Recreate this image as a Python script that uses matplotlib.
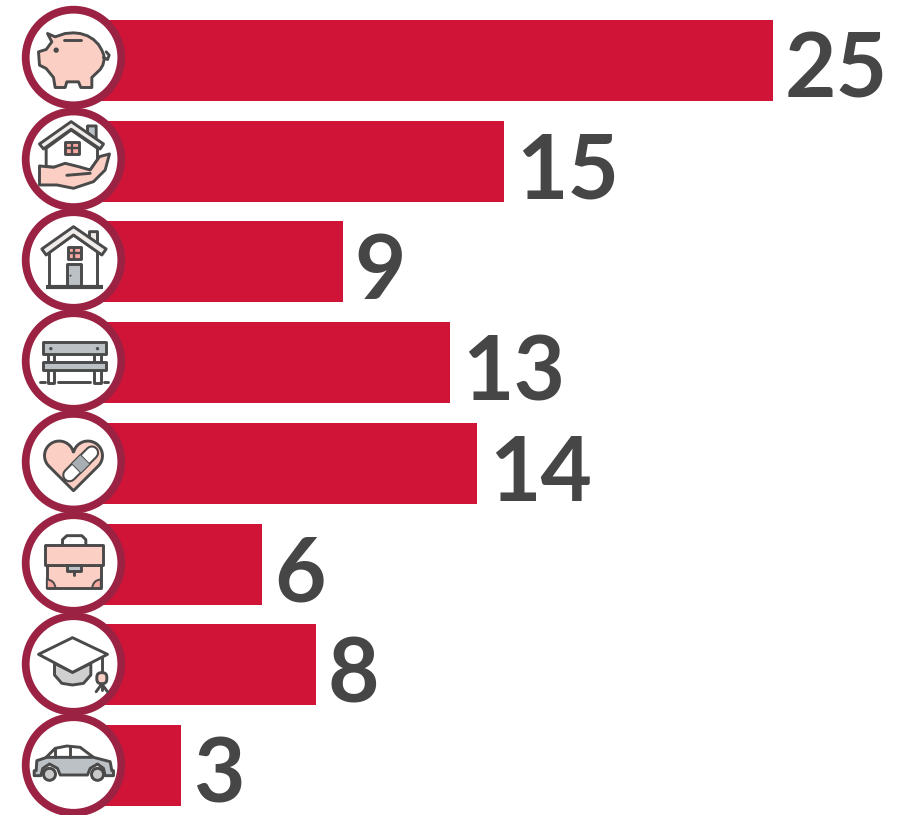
import numpy as np
import matplotlib
matplotlib.use("Agg")
import matplotlib.pyplot as plt
from matplotlib.patches import Circle, Polygon, Wedge, FancyBboxPatch

categories = ["Savings", "Home care", "Housing", "Public space", "Health", "Work", "Education", "Car"]
values = [25, 15, 9, 13, 14, 6, 8, 3]

BAR = "#d01438"
RING = "#9c2244"
TXT = "#464646"
LINE = "#4a4a4a"
PINK = "#fbcfc4"
GREY = "#bcc1c6"
LIGHT = "#efecea"
SALMON = "#f7a8a0"

W, H = 902, 815
fig = plt.figure(figsize=(W / 100, H / 100), dpi=100, facecolor="white")

# Main bar axes: value 0 at px 100.5, 26.9 px per unit; first bar centre px 60.5, pitch 100.71
PX_X, PX_Y = 26.9, 100.71
ax = fig.add_axes([0, 0, 1, 1])
ax.set_xlim(-100.5 / PX_X, (W - 100.5) / PX_X)
ax.set_ylim((H - 60.5) / PX_Y, -60.5 / PX_Y)
ax.axis("off")
ypos = np.arange(len(values))
ax.barh(ypos, values, height=81 / PX_Y, color=BAR, linewidth=0)
for y, v in zip(ypos, values):
    ax.text(v + 12 / PX_X, y + 37.5 / PX_Y, str(v), family="Lato", fontweight="bold",
            fontsize=64, color=TXT, ha="left", va="baseline")

# Icon overlay in pixel coordinates
ov = fig.add_axes([0, 0, 1, 1])
ov.set_xlim(0, W)
ov.set_ylim(H, 0)
ov.axis("off")
ov.patch.set_alpha(0)

CX = 73.5
CYS = [57.5, 159.3, 260, 361, 461.7, 563, 664, 765]
ZC = [(190, 172), (190, 478), (190, 165), (190, 470), (190, 155), (190, 460), (190, 162), (190, 465)]
LW = 2.1


class Icon:
    def __init__(self, i):
        self.cy = CYS[i]
        self.zc = ZC[i]

    def t(self, pts):
        p = np.array(pts, float)
        return np.column_stack([CX + (p[:, 0] - self.zc[0]) / 3, self.cy + (p[:, 1] - self.zc[1]) / 3])

    def poly(self, pts, fc="none", lw=LW, z=5):
        ov.add_patch(Polygon(self.t(pts), closed=True, fc=fc, ec=LINE, lw=lw, joinstyle="round", zorder=z))

    def line(self, pts, lw=LW, z=6, color=LINE, cap="round"):
        q = self.t(pts)
        ov.plot(q[:, 0], q[:, 1], color=color, lw=lw, solid_capstyle=cap, solid_joinstyle="round", zorder=z)

    def rect(self, x0, y0, x1, y1, fc="none", lw=LW, z=5):
        self.poly([(x0, y0), (x1, y0), (x1, y1), (x0, y1)], fc=fc, lw=lw, z=z)

    def dot(self, x, y, r, fc=LINE, z=6):
        q = self.t([(x, y)])[0]
        ov.add_patch(Circle(q, r / 3, fc=fc, ec="none", zorder=z))

    def circ(self, x, y, r, fc, z=6):
        q = self.t([(x, y)])[0]
        ov.add_patch(Circle(q, r / 3, fc=fc, ec=LINE, lw=LW, zorder=z))

    def window(self, x0, y0, x1, y1):
        self.rect(x0, y0, x1, y1, fc=SALMON)
        xm, ym = (x0 + x1) / 2, (y0 + y1) / 2
        self.line([(xm, y0), (xm, y1)], lw=1.7, cap="butt")
        self.line([(x0, ym), (x1, ym)], lw=1.7, cap="butt")


for i, cy in enumerate(CYS):
    ov.add_patch(Circle((CX, cy), 47.8, fc="white", ec=RING, lw=5.6, zorder=2 + i * 0.01))

# Piggy bank
a = Icon(0)
a.poly([(112, 100), (135, 110), (165, 100), (190, 98), (210, 100), (232, 107), (250, 118), (265, 133),
        (275, 150), (281, 165), (282, 178), (278, 195), (270, 208), (245, 232), (245, 262), (212, 262),
        (205, 245), (170, 245), (165, 262), (135, 262), (130, 232), (108, 205), (88, 195), (85, 155),
        (108, 148), (125, 125)], fc=PINK)
a.line([(280, 172), (292, 178), (297, 165), (288, 155)])
a.line([(162, 120), (212, 120)])
a.dot(138, 150, 8)

# House in hand
a = Icon(1)
a.poly([(232, 378), (258, 378), (258, 418), (232, 398)], fc=GREY)
a.poly([(108, 445), (183, 390), (262, 445), (262, 480), (240, 510), (108, 500)], fc="white", z=4)
a.poly([(88, 432), (183, 365), (280, 432), (270, 447), (183, 388), (100, 447)], fc=LIGHT)
a.window(165, 425, 205, 462)
a.poly([(88, 498), (130, 502), (165, 490), (205, 500), (240, 510), (268, 470), (298, 462), (285, 510),
        (250, 545), (190, 565), (140, 555), (88, 555)], fc=PINK, z=6)
a.line([(170, 526), (240, 520)], z=7)

# House
a = Icon(2)
a.poly([(238, 80), (262, 80), (262, 118), (238, 98)], fc=LIGHT)
a.poly([(118, 140), (190, 90), (262, 140), (262, 245), (118, 245)], fc="white", z=4)
a.poly([(95, 132), (190, 65), (288, 132), (275, 150), (190, 90), (108, 150)], fc=LIGHT)
a.window(172, 125, 212, 162)
a.rect(170, 178, 213, 245, fc=GREY)
a.dot(181, 212, 3)
a.line([(108, 246), (277, 246)], lw=3, cap="butt")

# Bench
a = Icon(3)
a.rect(112, 450, 132, 473, fc="white")
a.rect(250, 450, 272, 473, fc="white")
a.rect(112, 497, 132, 535, fc="white")
a.rect(250, 497, 272, 535, fc="white")
a.rect(98, 413, 287, 450, fc=GREY)
a.rect(98, 473, 287, 497, fc=GREY)
a.dot(122, 433, 5)
a.dot(262, 433, 5)
for seg in [[(90, 533), (103, 533)], [(142, 533), (240, 533)], [(281, 533), (293, 533)]]:
    a.line(seg)

# Heart with plaster
a = Icon(4)
left_arc = np.radians(np.linspace(-15, -225, 24))
right_arc = np.radians(np.linspace(45, -165, 24))
heart = np.vstack([
    np.column_stack([147 + 44 * np.cos(left_arc), 137 + 44 * np.sin(left_arc)]),
    [(190, 242)],
    np.column_stack([233 + 44 * np.cos(right_arc), 137 + 44 * np.sin(right_arc)]),
])
a.poly(heart, fc=PINK)
q = a.t([(178, 195), (245, 128)])
ov.plot(q[:, 0], q[:, 1], color=LINE, lw=10.5, solid_capstyle="round", zorder=6)
ov.plot(q[:, 0], q[:, 1], color="white", lw=7.5, solid_capstyle="round", zorder=7)
m = a.t([(197, 176), (226, 147)])
ov.plot(m[:, 0], m[:, 1], color=LINE, lw=10.5, solid_capstyle="butt", zorder=8)
m2 = a.t([(199, 174), (224, 149)])
ov.plot(m2[:, 0], m2[:, 1], color="#a9aeb3", lw=9, solid_capstyle="butt", zorder=9)

# Briefcase
a = Icon(5)
a.line([(157, 407), (157, 390), (170, 378), (215, 378), (227, 390), (227, 407)])
a.rect(110, 465, 272, 535, fc=PINK)
for cx_, t1, t2 in [(110, -90, 0), (272, 180, 270)]:
    c = a.t([(cx_, 535)])[0]
    ov.add_patch(Wedge(c, 8.5, t1, t2, fc=SALMON, ec=LINE, lw=1.4, zorder=6))
a.rect(103, 407, 278, 465, fc=PINK, z=6)
a.poly([(170, 465), (170, 485), (212, 485), (212, 465)], fc=GREY, z=7)
a.line([(190, 485), (190, 497)], z=7)

# Graduation cap
a = Icon(6)
a.poly([(133, 160), (133, 195), (155, 220), (187, 225), (220, 220), (242, 195), (242, 160), (187, 187)],
       fc="#cfcfcf", z=4)
a.poly([(85, 133), (187, 83), (292, 133), (187, 187)], fc="white")
a.line([(275, 142), (275, 186)])
a.line([(275, 222), (258, 245)])
a.line([(275, 222), (292, 245)])
a.line([(275, 222), (275, 240)])
ov.add_patch(FancyBboxPatch(a.t([(260, 188)])[0], 10, 11, boxstyle="round,pad=0,rounding_size=4.5",
                            fc=PINK, ec=LINE, lw=LW, zorder=7))

# Car
a = Icon(7)
a.poly([(105, 445), (135, 415), (170, 408), (210, 412), (250, 442)], fc="white", z=4)
a.poly([(78, 482), (80, 452), (110, 442), (250, 442), (300, 455), (305, 482), (310, 482), (310, 497),
        (285, 497), (280, 475), (262, 462), (240, 475), (232, 495), (150, 495), (142, 475), (118, 462),
        (98, 475), (92, 497), (72, 497), (72, 482)], fc=GREY)
a.line([(133, 416), (133, 442)])
a.line([(180, 408), (180, 442)])
a.circ(118, 493, 18, "#c9c9c9")
a.circ(262, 493, 18, "#c9c9c9")

fig.savefig("out.png", dpi=100, facecolor="white")
